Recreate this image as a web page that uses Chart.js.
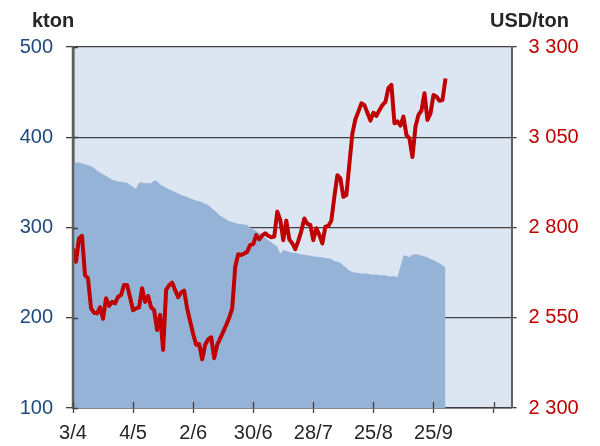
<!DOCTYPE html>
<html>
<head>
<meta charset="utf-8">
<script src="https://cdn.jsdelivr.net/npm/chart.js@4"></script>
<style>
  html, body { margin: 0; padding: 0; background: #fff; }
  #wrap { position: relative; width: 600px; height: 446px; }
  .unit { position: absolute; top: 10px; font: bold 20px "Liberation Sans", Arial, sans-serif; color: #262626; line-height: 20px; }
</style>
</head>
<body>
<div id="wrap">
  <canvas id="chart" width="600" height="446"></canvas>
  <div class="unit" style="left:32px">kton</div>
  <div class="unit" style="left:490px">USD/ton</div>
</div>
<script>
// x tick labels, one every 20 trading days
const tickLabels = ["3/4", "4/5", "2/6", "30/6", "28/7", "25/8", "25/9", ""];

// stocks, kton (left axis), one value per trading day
const stocks = [
  373, 372, 372, 371, 370, 369, 368, 366, 363, 361,
  359, 357, 355, 353, 352, 351, 351, 350, 350, 347,
  345, 343, 350, 350, 349, 349, 349, 352, 351, 348,
  346, 344, 342, 341, 339, 338, 336, 335, 334, 332,
  331, 330, 329, 328, 326, 325, 322, 319, 316, 313,
  311, 309, 307, 306, 305, 304, 304, 303, 303, 300,
  298, 296, 294, 291, 289, 286, 284, 281, 279, 271,
  275, 274, 273, 272, 272, 271, 270, 270, 269, 269,
  268, 268, 267, 267, 266, 266, 265, 263, 262, 261,
  258, 255, 252, 251, 250, 250, 249, 249, 249, 248,
  248, 248, 247, 247, 247, 246, 246, 246, 245, 257,
  269, 269, 267, 270, 270, 270, 269, 268, 267, 265,
  264, 262, 260, 258, 256
];

// price, USD/ton (right axis), one value per trading day
const price = [
  2742, 2705, 2770, 2777, 2668, 2659, 2576, 2564, 2562, 2579,
  2547, 2604, 2583, 2594, 2590, 2608, 2613, 2641, 2641, 2606,
  2571, 2576, 2579, 2632, 2594, 2610, 2579, 2571, 2516, 2558,
  2461, 2627, 2640, 2647, 2627, 2607, 2620, 2625, 2576, 2540,
  2505, 2475, 2477, 2435, 2475, 2490, 2496, 2438, 2475, 2493,
  2511, 2530, 2550, 2576, 2691, 2726, 2724, 2728, 2733, 2752,
  2754, 2779, 2767, 2778, 2784, 2777, 2773, 2775, 2844, 2821,
  2765, 2819, 2767, 2756, 2740, 2763, 2790, 2825, 2810, 2807,
  2765, 2798, 2779, 2756, 2802, 2804, 2819, 2885, 2945, 2936,
  2885, 2890, 2976, 3060, 3100, 3121, 3144, 3139, 3118, 3096,
  3118, 3109, 3125, 3139, 3148, 3186, 3195, 3089, 3094, 3082,
  3107, 3056, 3047, 2995, 3079, 3112, 3124, 3172, 3098, 3116,
  3167, 3162, 3151, 3153, 3213
];

const days = price.map((_, i) => i);
const font = { family: "'Liberation Sans', Arial, sans-serif", size: 20 };
const axisColor = "#404040";

// light blue plot background
const plotBg = {
  id: "plotBg",
  beforeDraw(chart) {
    const a = chart.chartArea, ctx = chart.ctx;
    ctx.save();
    ctx.fillStyle = "#dce6f2";
    ctx.fillRect(a.left, a.top, a.right - a.left, a.bottom - a.top);
    ctx.restore();
  }
};

// left axis line and inner half of the tick marks, drawn over the area
const innerTicks = {
  id: "innerTicks",
  afterDatasetsDraw(chart) {
    const a = chart.chartArea, ctx = chart.ctx;
    const sx = chart.scales.x, yl = chart.scales.y;
    ctx.save();
    ctx.strokeStyle = "#606060";
    ctx.lineWidth = 2.5;
    ctx.beginPath();
    ctx.moveTo(a.left, a.top);
    ctx.lineTo(a.left, a.bottom + 1);
    ctx.stroke();
    ctx.strokeStyle = axisColor;
    ctx.lineWidth = 1.3;
    ctx.beginPath();
    sx.ticks.forEach(t => {
      const px = Math.round(sx.getPixelForValue(t.value)) + 0.5;
      ctx.moveTo(px, a.bottom); ctx.lineTo(px, a.bottom - 6);
    });
    yl.ticks.forEach(t => {
      const py = Math.round(yl.getPixelForValue(t.value)) + 0.5;
      ctx.moveTo(a.left, py); ctx.lineTo(a.left + 5, py);
    });
    ctx.stroke();
    ctx.restore();
  }
};

new Chart(document.getElementById("chart"), {
  type: "line",
  data: {
    labels: days,
    datasets: [
      {
        label: "Price",
        data: price,
        yAxisID: "y2",
        borderColor: "#c00000",
        borderWidth: 4,
        borderJoinStyle: "round",
        pointRadius: 0,
        tension: 0,
        fill: false
      },
      {
        label: "Stocks",
        data: stocks,
        yAxisID: "y",
        borderWidth: 0,
        backgroundColor: "#95b3d7",
        pointRadius: 0,
        tension: 0,
        fill: "start"
      }
    ]
  },
  options: {
    responsive: false,
    animation: false,
    layout: { padding: { top: 47, left: 0, right: 0, bottom: 0 } },
    plugins: { legend: { display: false }, tooltip: { enabled: false } },
    scales: {
      x: {
        type: "linear",
        min: 0,
        max: 146,
        afterBuildTicks: s => { s.ticks = tickLabels.map((_, i) => ({ value: i * 20 })); },
        afterFit: s => { s.height = 38; },
        ticks: {
          font: font,
          color: "#262626",
          padding: 8,
          maxRotation: 0,
          autoSkip: false,
          callback: v => tickLabels[Math.round(v / 20)]
        },
        grid: { drawOnChartArea: false, tickLength: 5, tickColor: axisColor, tickWidth: 1.3 },
        border: { display: true, color: axisColor, width: 1.5 }
      },
      y: {
        position: "left",
        min: 100,
        max: 500,
        afterFit: s => { s.width = 73; },
        ticks: { stepSize: 100, font: font, color: "#1f497d", padding: 13 },
        grid: { color: axisColor, lineWidth: 1.3, tickLength: 7 },
        border: { display: true, color: "#606060", width: 2.5 }
      },
      y2: {
        position: "right",
        min: 2300,
        max: 3300,
        afterFit: s => { s.width = 88.4; },
        ticks: {
          stepSize: 250,
          font: font,
          color: "#c00000",
          padding: 12,
          callback: v => String(v).replace(/\B(?=(\d{3})+$)/, " ")
        },
        grid: { drawOnChartArea: false, tickLength: 5, color: axisColor, lineWidth: 1.3 },
        border: { display: true, color: "#606060", width: 2 }
      }
    }
  },
  plugins: [plotBg, innerTicks]
});
</script>
</body>
</html>
